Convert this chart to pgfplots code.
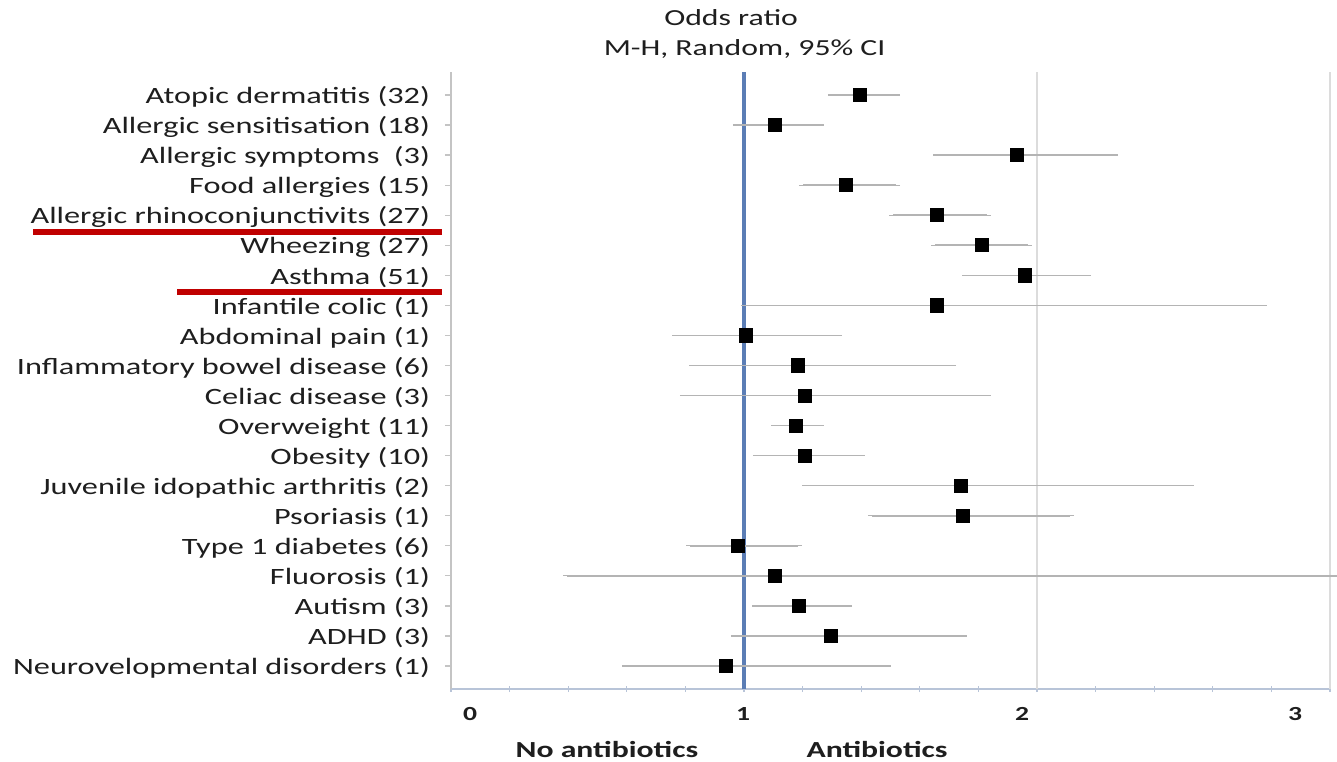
\documentclass[border=0pt]{standalone}
\usepackage{pgfplots}
\pgfplotsset{compat=1.18}
\usepackage{pgfplotstable}
\usepackage{fontspec}
\setmainfont{Carlito}[FakeStretch=1.38]
\definecolor{txt}{HTML}{1E1E1E}
\definecolor{refblue}{HTML}{5B7DB5}
\definecolor{cigray}{HTML}{B4B4B4}
\definecolor{axgray}{HTML}{C4C4C4}
\definecolor{botax}{HTML}{B8C4D8}
\definecolor{ulred}{HTML}{C00000}

\pgfplotstableread{
y or lo hi
20 1.396 1.300 1.519
19 1.106 0.976 1.259
18 1.932 1.659 2.263
17 1.348 1.201 1.519
16 1.659 1.509 1.829
15 1.812 1.652 1.969
14 1.959 1.758 2.171
13 1.659 1.003 2.771
12 1.007 0.768 1.321
11 1.184 0.826 1.710
10 1.208 0.795 1.829
9 1.177 1.106 1.259
8 1.208 1.044 1.399
7 1.741 1.212 2.522
6 1.747 1.437 2.113
5 0.980 0.816 1.184
4 1.106 0.396 3.025
3 1.188 1.041 1.355
2 1.297 0.969 1.747
1 0.939 0.597 1.488
}\ordata

\begin{document}
\begin{tikzpicture}
\begin{axis}[
  scale only axis,
  width=439.5pt, height=308.5pt,
  xmin=0, xmax=3,
  ymin=0.235, ymax=20.765,
  clip=false,
  axis x line*=bottom, axis y line*=left,
  x axis line style={draw=botax, line width=0.8pt},
  y axis line style={draw=axgray, line width=0.8pt},
  xtick={0.065,0.997,1.949,2.881},
  xticklabels={0,1,2,3},
  major x tick style={draw=none},
  xticklabel style={font=\fontsize{10}{12}\selectfont\bfseries, text=txt, yshift=-4pt},
  minor xtick={0,0.2,0.4,0.6,0.8,1,1.2,1.4,1.6,1.8,2,2.2,2.4,2.6,2.8,3},
  minor x tick style={draw=botax, line width=0.6pt},
  minor tick length=3pt,
  xtick align=center,
  extra x ticks={2,3},
  extra x tick labels={},
  extra x tick style={grid=major, major grid style={draw=axgray!60, line width=0.6pt}, major tick length=0pt},
  ytick={1,...,20},
  yticklabels={Neurovelopmental disorders (1),ADHD (3),Autism (3),Fluorosis (1),Type 1 diabetes (6),Psoriasis (1),Juvenile idopathic arthritis (2),Obesity (10),Overweight (11),Celiac disease (3),Inflammatory bowel disease (6),Abdominal pain (1),Infantile colic (1),Asthma (51),Wheezing (27),Allergic rhinoconjunctivits (27),Food allergies (15),Allergic symptoms\ \ (3),Allergic sensitisation (18),Atopic dermatitis (32)},
  ytick align=outside,
  major y tick style={draw=axgray, line width=0.6pt},
  major tick length=3pt,
  yticklabel style={font=\fontsize{11.7}{13}\selectfont, text=txt, xshift=-4pt, yshift=-1pt},
  /pgf/number format/assume math mode=true,
]
\addplot [draw=refblue, line width=1.6pt, forget plot] coordinates {(1,0.235) (1,20.765)};
\addplot [only marks, mark=square*, mark size=3.3pt, mark options={fill=black, draw=black},
  error bars/.cd, x dir=both, x explicit,
  error bar style={draw=cigray, line width=0.8pt},
  error mark options={draw=cigray, mark size=2pt, line width=0.6pt}]
  table [x=or, y=y, x error plus expr=\thisrow{hi}-\thisrow{or}, x error minus expr=\thisrow{or}-\thisrow{lo}] {\ordata};
\draw [ulred, line width=3pt] (axis cs:-1.427,15.44) -- (axis cs:-0.031,15.44);
\draw [ulred, line width=3pt] (axis cs:-0.935,13.44) -- (axis cs:-0.031,13.44);
\node [anchor=base, text=txt, font=\fontsize{11.5}{13}\selectfont] at ([yshift=23pt]axis cs:0.956,20.765) {Odds ratio};
\node [anchor=base, text=txt, font=\fontsize{11.5}{13}\selectfont] at ([yshift=8pt]axis cs:1.002,20.765) {M-H, Random, 95\% CI};
\node [anchor=base, text=txt, font=\fontsize{11.5}{13}\selectfont\bfseries] at ([yshift=-34pt]axis cs:0.532,0.235) {No antibiotics};
\node [anchor=base, text=txt, font=\fontsize{11.5}{13}\selectfont\bfseries] at ([yshift=-34pt]axis cs:1.454,0.235) {Antibiotics};
\end{axis}
\pgfresetboundingbox
\path (-225.5pt,-36pt) rectangle (443pt,344.5pt);
\end{tikzpicture}
\end{document}
